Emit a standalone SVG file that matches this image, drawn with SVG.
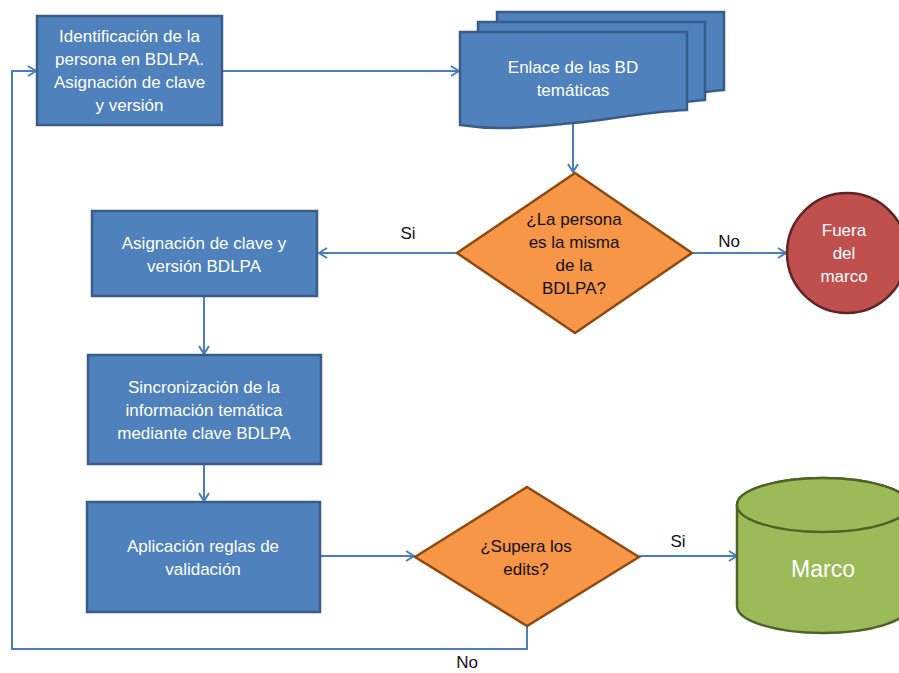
<svg xmlns="http://www.w3.org/2000/svg" width="899" height="673" viewBox="0 0 899 673">
<defs>
<style>
.box{fill:#4F81BD;stroke:#385D8A;stroke-width:2.5}
.dia{fill:#F79646;stroke:#8F4A12;stroke-width:2.5}
.t{font-family:"Liberation Sans",Arial,sans-serif;font-size:17px;text-anchor:middle}
.w{fill:#FFFFFF}
.k{fill:#111111}
.c{fill:none;stroke:#4A7EBB;stroke-width:2;marker-end:url(#ah)}
</style>
<marker id="ah" markerUnits="userSpaceOnUse" markerWidth="12" markerHeight="12" refX="9" refY="6" orient="auto" viewBox="0 0 12 12">
<path d="M1,1 L9,6 L1,11" fill="none" stroke="#4A7EBB" stroke-width="2"/>
</marker>
</defs>
<rect width="899" height="673" fill="#FFFFFF"/>
<g id="connectors">
<path class="c" d="M222,71 H459"/>
<path class="c" d="M573,123 V172"/>
<path class="c" d="M457,253 H319"/>
<path class="c" d="M692,253 H786"/>
<path class="c" d="M204,296 V354"/>
<path class="c" d="M204,464 V501"/>
<path class="c" d="M320,556 H414"/>
<path class="c" d="M639,556 H737"/>
<path class="c" d="M527,626 V649 H12 V71 H36"/>
<text class="t k" x="408" y="239">Si</text>
<text class="t k" x="729" y="247">No</text>
<text class="t k" x="678" y="547">Si</text>
<text class="t k" x="467" y="668">No</text>
</g>
<g id="n1">
<rect class="box" x="37" y="16" width="185" height="109"/>
<text class="t w" x="129.5" y="42">Identificación de la</text>
<text class="t w" x="129.5" y="65">persona en BDLPA.</text>
<text class="t w" x="129.5" y="88">Asignación de clave</text>
<text class="t w" x="129.5" y="111">y versión</text>
</g>
<g id="n2">
<path class="box" d="M497,12 H724 V90 C700,92 680,96 660,100 L497,100 Z"/>
<path class="box" d="M478,22 H705 V100 C680,102 660,106 640,110 L478,110 Z"/>
<path class="box" d="M460,32 H687 V110 C640,112 610,120 573,123 C530,127 500,131 460,125 Z"/>
<text class="t w" x="573" y="73">Enlace de las BD</text>
<text class="t w" x="573" y="96">temáticas</text>
</g>
<g id="n3">
<path class="dia" d="M575,173 L692,253 L575,333 L457,253 Z"/>
<text class="t k" x="574" y="225">¿La persona</text>
<text class="t k" x="574" y="248">es la misma</text>
<text class="t k" x="574" y="271">de la</text>
<text class="t k" x="574" y="294">BDLPA?</text>
</g>
<g id="n4">
<circle cx="847" cy="253" r="60" fill="#C0504D" stroke="#5E2523" stroke-width="2.5"/>
<text class="t w" x="844" y="236">Fuera</text>
<text class="t w" x="844" y="259">del</text>
<text class="t w" x="844" y="282">marco</text>
</g>
<g id="n5">
<rect class="box" x="92" y="211" width="225" height="85"/>
<text class="t w" x="204" y="249">Asignación de clave y</text>
<text class="t w" x="204" y="272">versión BDLPA</text>
</g>
<g id="n6">
<rect class="box" x="88" y="355" width="233" height="109"/>
<text class="t w" x="204" y="393">Sincronización de la</text>
<text class="t w" x="204" y="416">información temática</text>
<text class="t w" x="204" y="439">mediante clave BDLPA</text>
</g>
<g id="n7">
<rect class="box" x="87" y="502" width="233" height="110"/>
<text class="t w" x="203" y="552">Aplicación reglas de</text>
<text class="t w" x="203" y="575">validación</text>
</g>
<g id="n8">
<path class="dia" d="M527,487 L639,557 L527,626 L415,557 Z"/>
<text class="t k" x="526" y="552">¿Supera los</text>
<text class="t k" x="526" y="575">edits?</text>
</g>
<g id="n9">
<path d="M737,505 V606 A86,27 0 0 0 909,606 V505 A86,27 0 0 0 737,505 Z" fill="#9BBB59" stroke="#4F6228" stroke-width="2.5"/>
<ellipse cx="823" cy="505" rx="86" ry="27" fill="#9BBB59" stroke="#4F6228" stroke-width="2.5"/>
<text class="t w" x="823" y="577" style="font-size:23px">Marco</text>
</g>
</svg>
